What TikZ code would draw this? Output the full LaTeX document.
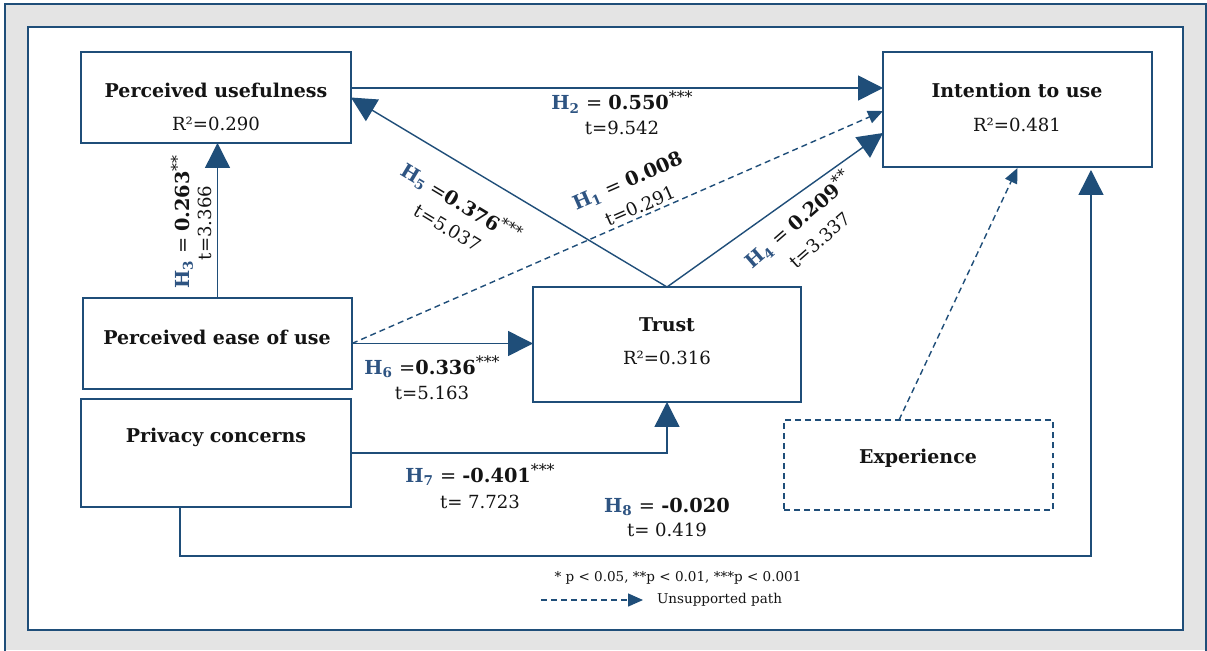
\documentclass[tikz,border=0pt]{standalone}
\usepackage{fontspec}
\setmainfont{DejaVu Serif}
\usetikzlibrary{arrows.meta}
\definecolor{navy}{RGB}{31,78,121}
\definecolor{hblue}{RGB}{46,84,130}
\definecolor{bggrey}{RGB}{228,228,228}
\definecolor{txt}{RGB}{20,20,20}
\newcommand{\Hyp}[1]{\textcolor{hblue}{\textbf{H\textsubscript{#1}}}}
\newcommand{\Stars}[1]{\raisebox{0.36em}{\fontsize{9}{9}\selectfont #1}}
\tikzset{
  every node/.style={inner sep=0pt, outer sep=0pt, text=txt, font=\fontsize{10.3}{12.4}\selectfont},
  box/.style={draw=navy, line width=1.1pt, fill=white},
  dbox/.style={draw=navy, line width=0.8pt, dash pattern=on 3.4pt off 2.3pt, fill=white},
  ttl/.style={font=\fontsize{10.8}{13}\selectfont\bfseries},
  hl/.style={font=\fontsize{11}{13}\selectfont},
  arr/.style={draw=navy, line width=0.8pt, -{Triangle[length=0.5cm,width=0.5cm]}},
  darr/.style={draw=navy, line width=0.8pt, dash pattern=on 3.4pt off 2.3pt, -{Triangle[length=0.3cm,width=0.26cm]}},
  lgd/.style={font=\fontsize{7.7}{9}\selectfont}
}
\begin{document}
\begin{tikzpicture}[x=0.02cm,y=-0.02cm]
\useasboundingbox (0,0) rectangle (1207,650);
\fill[white] (0,0) rectangle (1207,650);
\fill[bggrey] (5,4) rectangle (1207,650);
\draw[navy, line width=1.6pt] (5,652) -- (5,4) -- (1206,4) -- (1206,652);
\draw[navy, line width=1.5pt, fill=white] (28,27) rectangle (1183,630);

% boxes
\node[box, minimum width=5.4cm, minimum height=1.82cm] (PU) at (216,97.5) {};
\node[box, minimum width=5.38cm, minimum height=2.3cm] (IU) at (1017.5,109.5) {};
\node[box, minimum width=5.38cm, minimum height=1.82cm] (PEOU) at (217.5,343.5) {};
\node[box, minimum width=5.4cm, minimum height=2.16cm] (PC) at (216,453) {};
\node[box, minimum width=5.36cm, minimum height=2.3cm] (TR) at (667,344.5) {};
\node[dbox, minimum width=5.38cm, minimum height=1.8cm] (EX) at (918.5,465) {};

% box texts
\node[ttl] (PUt) at (216,90) {Perceived usefulness};
\node (PUr) at (216,124) {R²=0.290};
\node[ttl] (IUt) at (1017,90) {Intention to use};
\node (IUr) at (1017,125) {R²=0.481};
\node[ttl] (PEOUt) at (217,337) {Perceived ease of use};
\node[ttl] (PCt) at (216,437) {Privacy concerns};
\node[ttl] (TRt) at (667,325) {Trust};
\node (TRr) at (667,358) {R²=0.316};
\node[ttl] (EXt) at (918,458) {Experience};

% connectors
\draw[arr] ([yshift=0.19cm]PU.east) -- ([yshift=0.19cm]PU.east -| IU.west);
\draw[arr] (TR.north) -- (PU.east);
\draw[arr] (TR.north) -- ([yshift=-0.47cm]IU.west);
\draw[darr] (PEOU.east) -- ([yshift=-0.03cm]IU.west);
\draw[arr] (PEOU.north) -- (PEOU.north |- PU.south);
\draw[arr] (PEOU.east) -- (PEOU.east -| TR.west);
\draw[arr] (PC.east) -- (PC.east -| TR.south) -- (TR.south);
\draw[arr] ([xshift=-0.72cm]PC.south) -- ++(0,49) -| ([xshift=1.47cm,yshift=-0.06cm]IU.south);
\draw[darr] ([xshift=-0.39cm]EX.north) -- ([yshift=-0.02cm]IU.south);

% path labels
\node[hl] (h2a) at (622,102) {\Hyp{2} = \textbf{0.550}\Stars{***}};
\node (h2b) at (622,128) {t=9.542};
\node[hl, rotate=-31] (h5a) at (461,203) {\Hyp{5} =\textbf{0.376}\Stars{***}};
\node[rotate=-31] (h5b) at (448,228) {t=5.037};
\node[hl, rotate=23.6] (h1a) at (628,182) {\Hyp{1} = \textbf{0.008}};
\node[rotate=23.6] (h1b) at (640,206) {t=0.291};
\node[hl, rotate=41] (h4a) at (798,220) {\Hyp{4} = \textbf{0.209}\Stars{**}};
\node[rotate=41] (h4b) at (820,240) {t=3.337};
\node[hl, rotate=90] (h3a) at (182,222) {\Hyp{3} = \textbf{0.263}\Stars{**}};
\node[rotate=90] (h3b) at (205,223) {t=3.366};
\node[hl] (h6a) at (432,367) {\Hyp{6} =\textbf{0.336}\Stars{***}};
\node (h6b) at (432,393) {t=5.163};
\node[hl] (h7a) at (480,475) {\Hyp{7} = \textbf{-0.401}\Stars{***}};
\node (h7b) at (480,502) {t= 7.723};
\node[hl] (h8a) at (667,507) {\Hyp{8} = \textbf{-0.020}};
\node (h8b) at (667,530) {t= 0.419};

% legend
\node[lgd] (sig) at (678,578) {* p < 0.05, **p < 0.01, ***p < 0.001};
\node[lgd, anchor=west] (ulab) at (657,600) {Unsupported path};
\coordinate (lstart) at (541,600);
\draw[darr] (lstart) -- ([xshift=-0.28cm]ulab.west);
\end{tikzpicture}
\end{document}
